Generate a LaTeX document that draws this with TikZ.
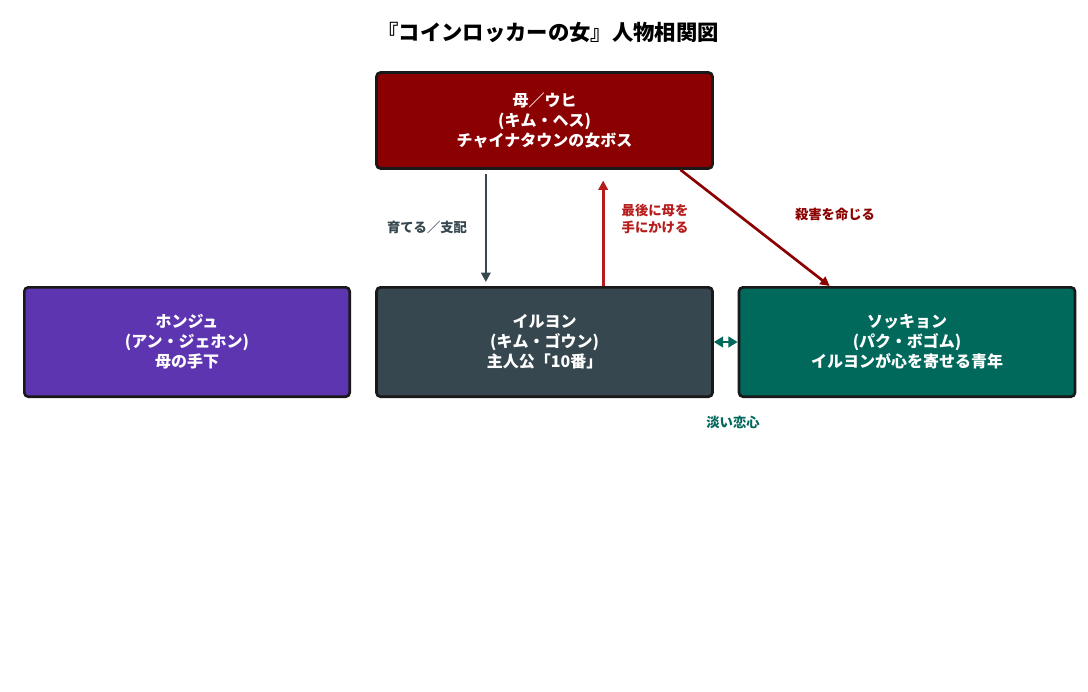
\documentclass[tikz,border=0pt]{standalone}
\usepackage{fontspec}
\setmainfont{Noto Sans CJK JP}
\usetikzlibrary{arrows.meta,positioning}
\definecolor{motherred}{RGB}{139,0,0}
\definecolor{heroslate}{RGB}{55,71,79}
\definecolor{hongpurple}{RGB}{94,53,177}
\definecolor{sokgreen}{RGB}{0,105,92}
\definecolor{killred}{RGB}{183,28,28}

\begin{document}
\begin{tikzpicture}[
    x=0.75pt, y=-0.75pt,
    person/.style={rectangle, draw=black!90, line width=2pt, rounded corners=3pt, align=center, font=\bfseries\fontsize{12}{15}\selectfont, text=white, minimum width=252pt, minimum height=82pt},
    rel/.style={font=\bfseries\fontsize{10}{13}\selectfont, align=center},
    arrow/.style={-{Triangle[length=7pt,width=7pt]}, line width=2pt}
]
\useasboundingbox (0,0) rectangle (1088,692);

% Title
\node[font=\bfseries\fontsize{16}{20}\selectfont] (title) at (548,32) {『コインロッカーの女』人物相関図};

% People
\node[person, fill=motherred, minimum height=72pt] (mother) at (544.5,120.5) {母／ウヒ\\(キム・ヘス)\\チャイナタウンの女ボス};
\node[person, fill=heroslate] (ilyeon) at (544.5,342) {イルヨン\\(キム・ゴウン)\\主人公「10番」};
\node[person, fill=hongpurple, minimum width=244pt] (hongju) at (187,342) {ホンジュ\\(アン・ジェホン)\\母の手下};
\node[person, fill=sokgreen] (sokkyon) at (907,342) {ソッキョン\\(パク・ボゴム)\\イルヨンが心を寄せる青年};

% Relations
\draw[arrow, heroslate] ([xshift=-44pt,yshift=-3pt]mother.south) -- ([xshift=-44pt,yshift=3pt]ilyeon.north);
\node[rel, text=heroslate] (raise) at (427,227) {育てる／支配};

\draw[arrow, killred] ([xshift=44pt]ilyeon.north) -- ([xshift=44pt,yshift=-8pt]mother.south);
\node[rel, text=killred] (kill) at (655,219) {最後に母を\\手にかける};

\draw[arrow, motherred] ([xshift=102pt]mother.south) -- ([xshift=-58pt]sokkyon.north);
\node[rel, text=motherred] (order) at (835,214) {殺害を命じる};

\draw[{Triangle[length=7pt,width=8pt]}-{Triangle[length=7pt,width=8pt]}, sokgreen, line width=2pt] (ilyeon.east) -- (sokkyon.west);
\node[rel, text=sokgreen] (love) at (733,422) {淡い恋心};
\end{tikzpicture}
\end{document}
